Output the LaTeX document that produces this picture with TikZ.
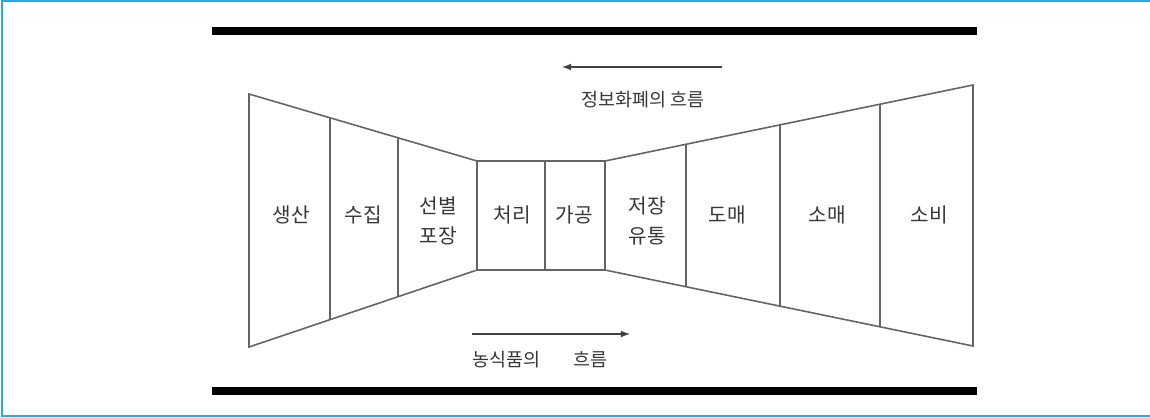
\documentclass[tikz,border=0pt]{standalone}
\usepackage{fontspec}
\usepackage{xcolor}
\usepackage{tikz}
\usetikzlibrary{arrows, positioning}
\newfontfamily\kr{Noto Sans CJK KR}
\definecolor{framecol}{RGB}{41,171,226}
\definecolor{wallcol}{RGB}{100,100,100}
\definecolor{txtcol}{RGB}{55,55,55}

\begin{document}
\begin{tikzpicture}[
    x=0.02cm, y=-0.02cm,
    stage/.style={text=txtcol, font=\kr\fontsize{11.5}{17}\selectfont, align=center, inner sep=0pt},
    flowtxt/.style={text=txtcol, font=\kr\fontsize{10.5}{12}\selectfont, inner sep=0pt},
    wall/.style={draw=wallcol, line width=0.9pt, line join=miter},
    bar/.style={line width=4pt, black},
    flow/.style={-latex, line width=0.8pt, color=black!75}
]
\useasboundingbox (0,0) rectangle (1150,417);

% Frame
\draw[framecol, line width=1.6pt] (1150,1) -- (2,1) -- (2,416) -- (1150,416);

% Thick bars
\coordinate (barTL) at (212,31);
\coordinate (barTR) at (977,31);
\coordinate (barBL) at (212,391);
\coordinate (barBR) at (977,391);
\draw[bar] (barTL) -- (barTR);
\draw[bar] (barBL) -- (barBR);

% Corner points of the channel
\coordinate (lt) at (249,94);  \coordinate (lb) at (249,347);
\coordinate (at) at (330,118); \coordinate (ab) at (330,320);
\coordinate (bt) at (398,138); \coordinate (bb) at (398,297);
\coordinate (ct) at (477,161); \coordinate (cb) at (477,270);
\coordinate (dt) at (545,161); \coordinate (db) at (545,270);
\coordinate (et) at (605,161); \coordinate (eb) at (605,270);
\coordinate (ft) at (686,144); \coordinate (fb) at (686,286);
\coordinate (gt) at (780,125); \coordinate (gb) at (780,306);
\coordinate (ht) at (880,104); \coordinate (hb) at (880,327);
\coordinate (rt) at (973,85);  \coordinate (rb) at (973,346);

% Outline
\draw[wall] (lt) -- (ct) -- (et) -- (rt) -- (rb) -- (eb) -- (cb) -- (lb) -- cycle;

% Dividers
\draw[wall] (at) -- (ab);
\draw[wall] (bt) -- (bb);
\draw[wall] (ct) -- (cb);
\draw[wall] (dt) -- (db);
\draw[wall] (et) -- (eb);
\draw[wall] (ft) -- (fb);
\draw[wall] (gt) -- (gb);
\draw[wall] (ht) -- (hb);

% Stages
\node[stage] (prod) at (291,215) {생산};
\node[stage] (coll) at (363,215) {수집};
\node[stage] (sort) at (438,221) {선별\\포장};
\node[stage] (proc) at (512,215) {처리};
\node[stage] (manu) at (574,215) {가공};
\node[stage] (stor) at (647,221) {저장\\유통};
\node[stage] (whol) at (727,215) {도매};
\node[stage] (reta) at (827,215) {소매};
\node[stage] (cons) at (929,215) {소비};

% Flows
\coordinate (infoS) at (722,67);
\coordinate (infoE) at (562,67);
\draw[flow] (infoS) -- (infoE);
\node[flowtxt] (info) at (643,100) {정보화폐의 흐름};

\coordinate (foodS) at (472,334);
\coordinate (foodE) at (630,334);
\draw[flow] (foodS) -- (foodE);
\node[flowtxt, anchor=west] (food) at (472,360) {농식품의\hspace{1.8em}흐름};

\end{tikzpicture}
\end{document}
